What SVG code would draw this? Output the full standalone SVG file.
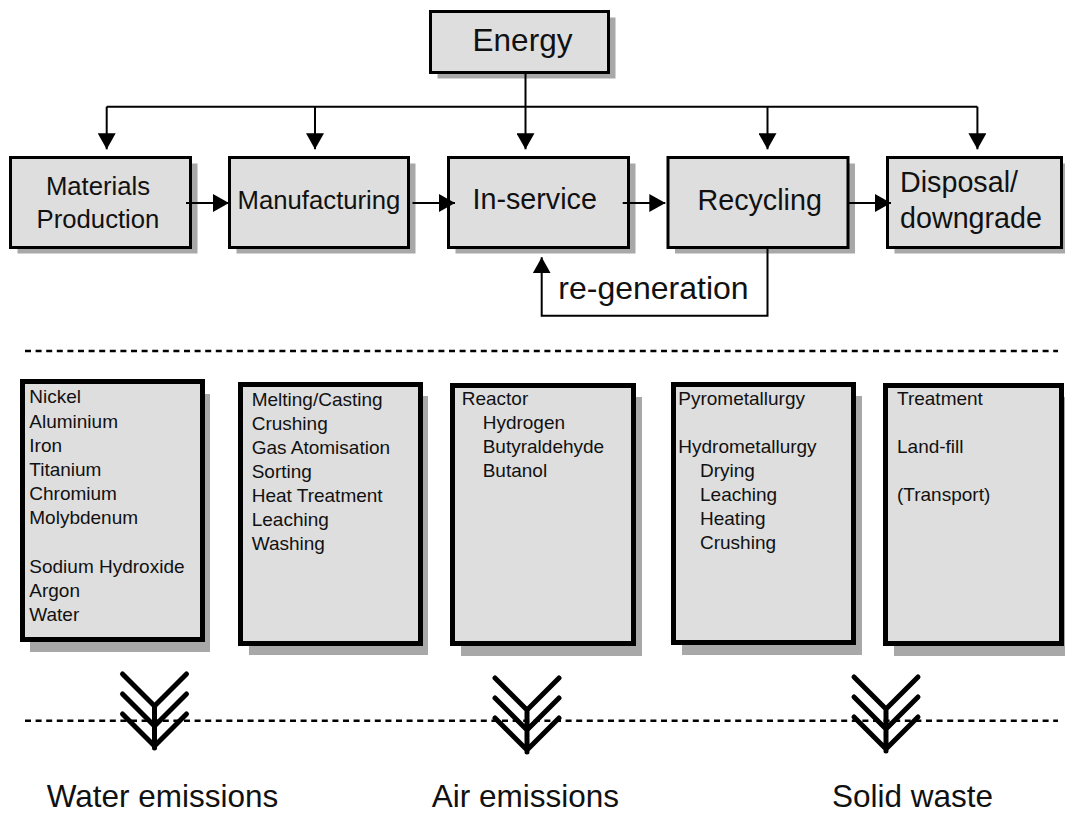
<svg xmlns="http://www.w3.org/2000/svg" width="1065" height="816" viewBox="0 0 1065 816">
<style>
text{font-family:"Liberation Sans",Arial,sans-serif;fill:#111}
.box{fill:#dedede;stroke:#000;stroke-width:3}
.bbox{fill:#dedede;stroke:#000;stroke-width:5}
.sh{fill:#a8a8a8}
.t26{font-size:25.7px}
.t29{font-size:28.7px}
.t32{font-size:31.5px}
.t19{font-size:19px}
.conn{fill:none;stroke:#000;stroke-width:2}
.dash{fill:none;stroke:#000;stroke-width:2.5;stroke-dasharray:6 4.6}
.chev{fill:none;stroke:#000;stroke-width:5;stroke-linecap:round;stroke-linejoin:miter}
</style>
<defs>
<marker id="ah" markerUnits="userSpaceOnUse" markerWidth="16" markerHeight="18" refX="16" refY="9" orient="auto" viewBox="0 0 16 18">
<path d="M0,0 L16,9 L0,18 z" fill="#000"/>
</marker>
</defs>

<g id="energy">
<rect class="sh" x="437.5" y="17.5" width="178" height="61"/>
<rect class="box" x="430.5" y="11.5" width="178" height="61"/>
<text class="t32" x="522.5" y="50.7" text-anchor="middle">Energy</text>
</g>

<g id="materials-production">
<rect class="sh" x="17.5" y="163.5" width="180" height="90"/>
<rect class="box" x="10.5" y="157.5" width="180" height="90"/>
<text class="t26" x="98" y="195" text-anchor="middle">Materials</text>
<text class="t26" x="98" y="228" text-anchor="middle">Production</text>
</g>

<g id="manufacturing">
<rect class="sh" x="236.5" y="163.5" width="179" height="90"/>
<rect class="box" x="229.5" y="157.5" width="179" height="90"/>
<text class="t26" x="319" y="209" text-anchor="middle">Manufacturing</text>
</g>

<g id="in-service">
<rect class="sh" x="455.5" y="163.5" width="180" height="90"/>
<rect class="box" x="448.5" y="157.5" width="180" height="90"/>
<text class="t29" x="534.7" y="209.3" text-anchor="middle">In-service</text>
</g>

<g id="recycling">
<rect class="sh" x="675" y="163.5" width="180" height="90"/>
<rect class="box" x="668" y="157.5" width="180" height="90"/>
<text class="t29" x="759.7" y="210" text-anchor="middle">Recycling</text>
</g>

<g id="disposal">
<rect class="sh" x="894.5" y="163.5" width="174" height="90"/>
<rect class="box" x="887.5" y="157.5" width="174" height="90"/>
<text class="t29" x="900" y="191.7">Disposal/</text>
<text class="t29" x="900" y="228.3">downgrade</text>
</g>

<g id="connectors">
<path class="conn" d="M525.5,74 V149.3" marker-end="url(#ah)"/>
<path class="conn" d="M106.7,106.7 H977.4"/>
<path class="conn" d="M106.7,106.7 V149.3" marker-end="url(#ah)"/>
<path class="conn" d="M315,106.7 V149.3" marker-end="url(#ah)"/>
<path class="conn" d="M767.5,106.7 V149.3" marker-end="url(#ah)"/>
<path class="conn" d="M977.4,106.7 V149.3" marker-end="url(#ah)"/>
<path class="conn" d="M186,203 H229" marker-end="url(#ah)"/>
<path class="conn" d="M412.5,203 H455" marker-end="url(#ah)"/>
<path class="conn" d="M622.7,203 H665.3" marker-end="url(#ah)"/>
<path class="conn" d="M849,203 H891" marker-end="url(#ah)"/>
<path class="conn" d="M767.5,249 V315.7 H541.7 V257.3" marker-end="url(#ah)"/>
</g>
<text id="regen-label" style="font-size:32px" x="558.3" y="299.3">re-generation</text>

<path class="dash" d="M25,351 H1058"/>

<g id="materials-list">
<rect class="sh" x="30" y="394" width="180" height="258"/>
<rect class="bbox" x="22.5" y="381.5" width="180" height="258"/>
<text class="t19" x="29.3" y="403.3">Nickel</text>
<text class="t19" x="29.3" y="427.5">Aluminium</text>
<text class="t19" x="29.3" y="451.7">Iron</text>
<text class="t19" x="29.3" y="475.9">Titanium</text>
<text class="t19" x="29.3" y="500.1">Chromium</text>
<text class="t19" x="29.3" y="524.3">Molybdenum</text>
<text class="t19" x="29.3" y="572.7">Sodium Hydroxide</text>
<text class="t19" x="29.3" y="596.9">Argon</text>
<text class="t19" x="29.3" y="621.1">Water</text>
</g>

<g id="manufacturing-list">
<rect class="sh" x="249" y="396" width="179" height="259"/>
<rect class="bbox" x="240.5" y="384.5" width="180" height="259"/>
<text class="t19" x="251.7" y="406">Melting/Casting</text>
<text class="t19" x="251.7" y="430">Crushing</text>
<text class="t19" x="251.7" y="454">Gas Atomisation</text>
<text class="t19" x="251.7" y="478">Sorting</text>
<text class="t19" x="251.7" y="502">Heat Treatment</text>
<text class="t19" x="251.7" y="526">Leaching</text>
<text class="t19" x="251.7" y="550">Washing</text>
</g>

<g id="in-service-list">
<rect class="sh" x="461" y="397" width="181" height="259"/>
<rect class="bbox" x="452.5" y="385.5" width="181" height="258"/>
<text class="t19" x="461.7" y="405">Reactor</text>
<text class="t19" x="482.7" y="429.3">Hydrogen</text>
<text class="t19" x="482.7" y="453.3">Butyraldehyde</text>
<text class="t19" x="482.7" y="477.3">Butanol</text>
</g>

<g id="recycling-list">
<rect class="sh" x="682" y="396" width="180" height="259"/>
<rect class="bbox" x="673.5" y="384.5" width="180" height="258"/>
<text class="t19" x="678.3" y="405">Pyrometallurgy</text>
<text class="t19" x="678.3" y="453">Hydrometallurgy</text>
<text class="t19" x="700" y="477">Drying</text>
<text class="t19" x="700" y="501">Leaching</text>
<text class="t19" x="700" y="525">Heating</text>
<text class="t19" x="700" y="549">Crushing</text>
</g>

<g id="disposal-list">
<rect class="sh" x="894" y="397" width="175" height="259"/>
<rect class="bbox" x="885.5" y="385.5" width="176" height="258"/>
<text class="t19" x="897" y="405">Treatment</text>
<text class="t19" x="897" y="453">Land-fill</text>
<text class="t19" x="897" y="501">(Transport)</text>
</g>

<path class="dash" d="M25,720.7 H1058"/>

<g id="water-emissions">
<path class="chev" d="M122.5,674 L154.5,706 L186.5,674 M122.5,694 L154.5,726 L186.5,694 M122.5,714 L154.5,746 L186.5,714 M154.5,706 V748"/>
<text class="t32" x="46.7" y="806.5">Water emissions</text>
</g>

<g id="air-emissions">
<path class="chev" d="M495,678 L527,710 L559,678 M495,698 L527,730 L559,698 M495,718 L527,750 L559,718 M527,710 V752"/>
<text class="t32" x="431.7" y="806.5">Air emissions</text>
</g>

<g id="solid-waste">
<path class="chev" d="M854,677 L886,709 L918,677 M854,697 L886,729 L918,697 M854,717 L886,749 L918,717 M886,709 V751"/>
<text class="t32" x="832" y="806.5">Solid waste</text>
</g>
</svg>
